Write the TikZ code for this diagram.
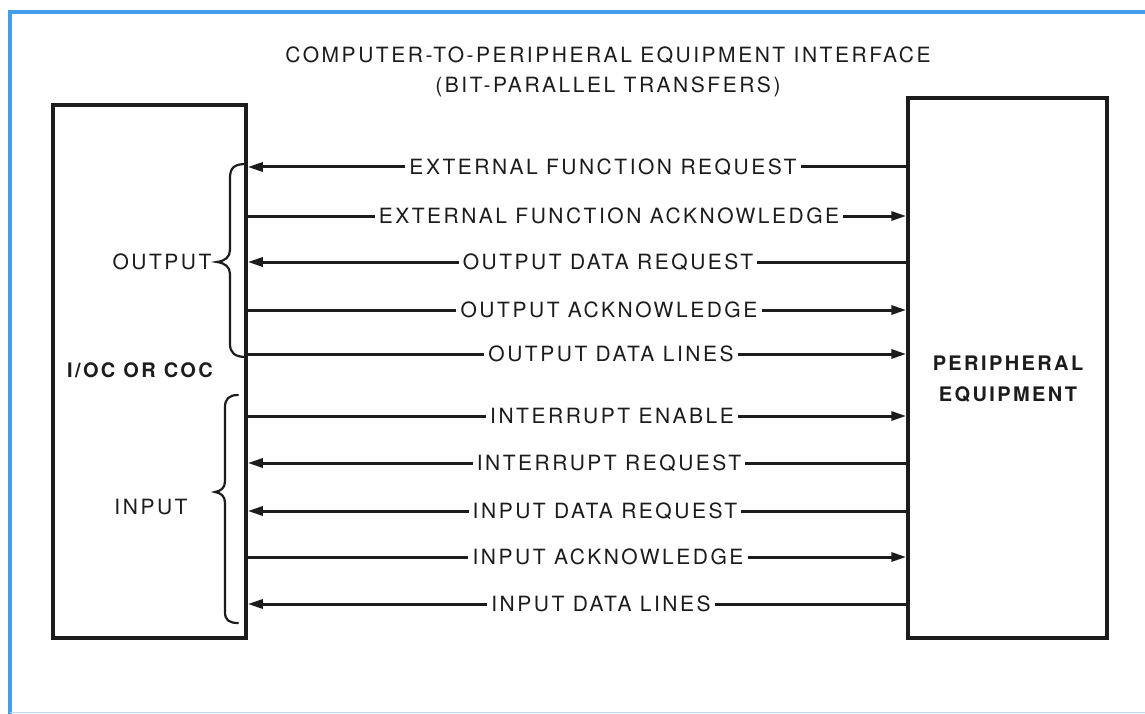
\documentclass[tikz,border=0pt]{standalone}
\usepackage{fontspec}
\setmainfont{TeX Gyre Heros}
\newfontfamily\lblfont{TeX Gyre Heros}[LetterSpace=12]
\usetikzlibrary{arrows.meta}
\definecolor{frameblue}{RGB}{66,158,235}
\definecolor{ink}{RGB}{28,28,28}
\begin{document}
\begin{tikzpicture}[x=1pt,y=-1pt,
  box/.style={draw=ink, line width=3.5pt, rectangle, inner sep=0pt},
  sig/.style={font=\lblfont\fontsize{21}{24}\selectfont, text=ink, inner sep=4pt},
  heading/.style={font=\lblfont\fontsize{21}{30}\selectfont, text=ink, align=center, inner sep=0pt},
  boxlbl/.style={font=\lblfont\bfseries\fontsize{20}{31}\selectfont, text=ink, align=center, inner sep=0pt},
  grp/.style={font=\lblfont\fontsize{21}{24}\selectfont, text=ink, inner sep=0pt},
  wire/.style={draw=ink, line width=3pt},
  tip/.style={-{Triangle[length=15pt,width=9pt]}},
  brc/.style={draw=ink, line width=2.2pt, line cap=round}]
\useasboundingbox (0,0) rectangle (1145,714);
\fill[white] (0,0) rectangle (1145,714);
% blue frame
\draw[frameblue, line width=4pt] (1145,12) -- (10,12) -- (10,714);
\draw[frameblue!40, line width=1.2pt] (10,712.5) -- (1145,712.5);

% title
\node[heading] (title) at (608,72) {COMPUTER-TO-PERIPHERAL EQUIPMENT INTERFACE\\(BIT-PARALLEL TRANSFERS)};

% boxes
\node[box, minimum width=193pt, minimum height=533pt] (io) at (149.5,371.5) {};
\node[box, minimum width=199pt, minimum height=540pt] (pe) at (1007.5,368) {};
\node[boxlbl] (iolbl) at (140,370) {I/OC OR COC};
\node[boxlbl] (pelbl) at (1008,379) {PERIPHERAL\\EQUIPMENT};

% group labels
\node[grp] (outlbl) at (162,262) {OUTPUT};
\node[grp] (inlbl) at (151,507) {INPUT};

% braces
\draw[brc] (246,164) .. controls (234,164) and (230,168) .. (230,178) -- (230,250)
  .. controls (230,257) and (225,261) .. (217,262)
  .. controls (225,263) and (230,267) .. (230,274) -- (230,344)
  .. controls (230,353) and (235,357) .. (246,357);
\draw[brc] (238,395) .. controls (229,395) and (225,399) .. (225,407) -- (225,481)
  .. controls (225,488) and (221,491) .. (215,492)
  .. controls (221,493) and (225,496) .. (225,503) -- (225,612)
  .. controls (225,620) and (229,623) .. (238,623);

% signal labels
\node[sig] (r1) at (603,167) {EXTERNAL FUNCTION REQUEST};
\node[sig] (r2) at (609,216) {EXTERNAL FUNCTION ACKNOWLEDGE};
\node[sig] (r3) at (608,262) {OUTPUT DATA REQUEST};
\node[sig] (r4) at (609,310) {OUTPUT ACKNOWLEDGE};
\node[sig] (r5) at (611,354) {OUTPUT DATA LINES};
\node[sig] (r6) at (612,416) {INTERRUPT ENABLE};
\node[sig] (r7) at (609,463) {INTERRUPT REQUEST};
\node[sig] (r8) at (605,511) {INPUT DATA REQUEST};
\node[sig] (r9) at (608,557) {INPUT ACKNOWLEDGE};
\node[sig] (r10) at (601,604) {INPUT DATA LINES};

% connectors: toward the I/OC (left)
\foreach \r in {r1,r3,r7,r8,r10}{
  \draw[wire,tip] (\r.west) -- (\r.west -| io.east);
  \draw[wire] (\r.east) -- (\r.east -| pe.west);
}
% connectors: toward the peripheral (right)
\foreach \r in {r2,r4,r5,r6,r9}{
  \draw[wire] (\r.west) -- (\r.west -| io.east);
  \draw[wire,tip] (\r.east) -- (\r.east -| pe.west);
}
\end{tikzpicture}
\end{document}
